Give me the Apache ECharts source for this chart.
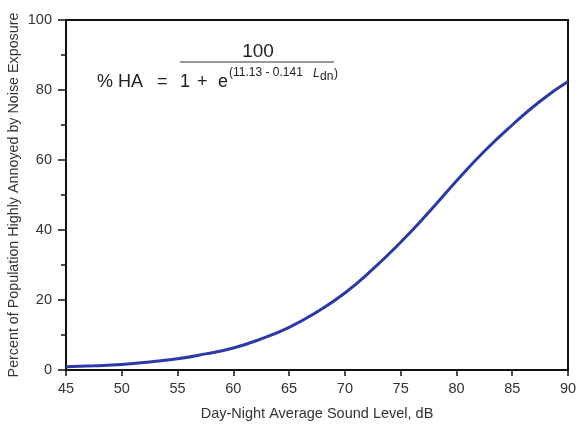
<!DOCTYPE html>
<html>
<head>
<meta charset="utf-8">
<script src="https://cdn.jsdelivr.net/npm/echarts@6/dist/echarts.min.js"></script>
<style>
  html, body { margin: 0; padding: 0; background: #fff; }
  #main { width: 582px; height: 425px; }
</style>
</head>
<body>
<div id="main"></div>
<script>
// sound level (dB) and % highly annoyed
var levels = [45, 47.5, 50, 52.5, 55, 57.5, 60, 62.5, 65, 67.5, 70, 72.5, 75, 77.5, 80, 82.5, 85, 87.5, 90];
var pctHA = [0.9, 1.2, 1.6, 2.3, 3.2, 4.6, 6.3, 8.9, 12.2, 16.6, 22, 28.8, 36.5, 45, 54, 62.5, 70, 76.8, 82.4];
var xTicks = [45, 50, 55, 60, 65, 70, 75, 80, 85, 90];
var yTicks = [0, 20, 40, 60, 80, 100];

var font = '"Liberation Sans", Arial, sans-serif';
var points = [];
for (var i = 0; i < levels.length; i++) {
    points.push([levels[i], pctHA[i]]);
}

// formula pieces
var txt = function (x, y, s, size, extra) {
    return { type: 'text', style: { x: x, y: y, text: s, textVerticalAlign: 'middle', font: (extra || '') + size + 'px ' + font, fill: '#222' } };
};

var myChart = echarts.init(document.getElementById('main'));
var option = {
    backgroundColor: '#fff',
    animation: false,
    grid: { left: 66, right: 14, top: 20, bottom: 55, show: true, borderColor: '#111', borderWidth: 2, outerBoundsMode: 'none' },
    xAxis: {
        type: 'value', min: xTicks[0], max: xTicks[xTicks.length - 1], interval: 5,
        name: 'Day-Night Average Sound Level, dB', nameLocation: 'middle', nameGap: 36,
        nameTextStyle: { fontFamily: font, fontSize: 14.5, color: '#333' },
        axisLine: { lineStyle: { color: '#111', width: 2 } },
        axisTick: { show: true, length: 6, lineStyle: { color: '#111', width: 1.5 } },
        axisLabel: { fontFamily: font, fontSize: 14.5, color: '#333', margin: 11 },
        splitLine: { show: false }
    },
    yAxis: {
        type: 'value', min: yTicks[0], max: yTicks[yTicks.length - 1], interval: 20,
        name: 'Percent of Population Highly Annoyed by Noise Exposure', nameLocation: 'middle', nameGap: 45,
        nameMoveOverlap: false,
        nameTextStyle: { fontFamily: font, fontSize: 14.3, color: '#333' },
        axisLine: { lineStyle: { color: '#111', width: 2 } },
        axisTick: { show: true, length: 8, lineStyle: { color: '#111', width: 1.5 } },
        minorTick: { show: true, splitNumber: 2, length: 5, lineStyle: { color: '#111', width: 1.5 } },
        axisLabel: { fontFamily: font, fontSize: 14.5, color: '#333', margin: 14 },
        splitLine: { show: false }
    },
    series: [{
        type: 'line', data: points, smooth: true, symbol: 'none',
        lineStyle: { color: '#2b3aa8', width: 3 }
    }],
    graphic: [
        { type: 'text', style: { x: 258, y: 52, text: '100', textAlign: 'center', textVerticalAlign: 'middle', font: '19px ' + font, fill: '#222' } },
        { type: 'line', shape: { x1: 180, y1: 62, x2: 334, y2: 62 }, style: { stroke: '#333', lineWidth: 1 } },
        txt(97, 82, '% HA', 18),
        txt(157, 82, '=', 18),
        txt(180, 82, '1', 18),
        txt(197, 82, '+', 18),
        txt(218, 82, 'e', 18),
        txt(229, 73, '(11.13 - 0.141', 12),
        txt(313, 74, 'L', 12, 'italic '),
        txt(320, 77, 'dn', 12),
        txt(334, 74, ')', 12)
    ]
};
myChart.setOption(option);
</script>
</body>
</html>
